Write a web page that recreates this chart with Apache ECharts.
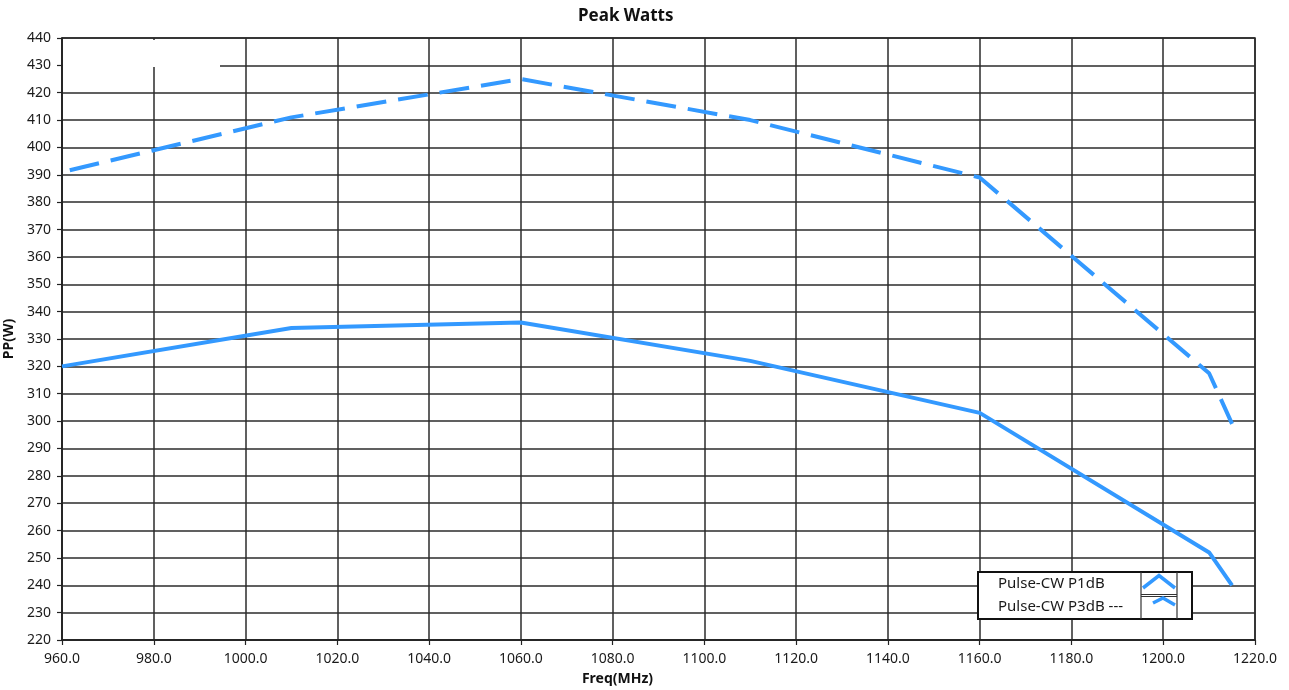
<!DOCTYPE html>
<html>
<head>
<meta charset="utf-8">
<title>Peak Watts</title>
<script src="https://cdn.jsdelivr.net/npm/echarts@6/dist/echarts.min.js"></script>
<style>
  html, body { margin: 0; padding: 0; background: #ffffff; }
  #chart { width: 1289px; height: 690px; }
</style>
</head>
<body>
<div id="chart"></div>
<script>
// Frequency points (MHz) shared by both curves
const freqMHz = [960, 1010, 1060, 1110, 1160, 1210, 1215];
// Peak power (W) at 1 dB compression
const p1dBWatts = [320, 334, 336, 322, 303, 252, 240];
// Peak power (W) at 3 dB compression
const p3dBWatts = [391, 411, 425, 410, 389, 317.5, 299];

const seriesNames = ['Pulse-CW P1dB', 'Pulse-CW P3dB ---'];
const lineBlue = '#3399ff';
const gridInk = '#2b2b2b';
const fontFamily = '"Noto Sans", "DejaVu Sans", sans-serif';

const toPairs = (xs, ys) => xs.map((x, i) => [x, ys[i]]);

const chart = echarts.init(document.getElementById('chart'), null, { renderer: 'canvas' });

// Legend box drawn at the lower right of the plot
const lgX = 978, lgY = 572;
const legendGraphics = [
  { type: 'rect', z: 200, shape: { x: lgX, y: lgY, width: 214, height: 47 },
    style: { fill: '#ffffff', stroke: '#111', lineWidth: 2 } },
  { type: 'line', z: 201, shape: { x1: lgX + 163, y1: lgY, x2: lgX + 163, y2: lgY + 47 },
    style: { stroke: '#333', lineWidth: 1.2 } },
  { type: 'line', z: 201, shape: { x1: lgX + 199, y1: lgY, x2: lgX + 199, y2: lgY + 47 },
    style: { stroke: '#333', lineWidth: 1.2 } },
  { type: 'line', z: 201, shape: { x1: lgX + 163, y1: lgY + 22.5, x2: lgX + 199, y2: lgY + 22.5 },
    style: { stroke: '#333', lineWidth: 1.2 } },
  { type: 'line', z: 201, shape: { x1: lgX + 163, y1: lgY + 24.5, x2: lgX + 199, y2: lgY + 24.5 },
    style: { stroke: '#333', lineWidth: 1.2 } },
  { type: 'text', z: 202, x: lgX + 20, y: lgY + 11.5,
    style: { text: seriesNames[0], fill: '#1a1a1a', font: '15px ' + fontFamily, verticalAlign: 'middle' } },
  { type: 'text', z: 202, x: lgX + 20, y: lgY + 35,
    style: { text: seriesNames[1], fill: '#1a1a1a', font: '15px ' + fontFamily, verticalAlign: 'middle' } },
  { type: 'polyline', z: 202,
    shape: { points: [[lgX + 165, lgY + 16], [lgX + 181, lgY + 3.5], [lgX + 197, lgY + 16]] },
    style: { stroke: lineBlue, lineWidth: 3.5, fill: null } },
  { type: 'polyline', z: 202,
    shape: { points: [[lgX + 175, lgY + 31], [lgX + 185, lgY + 26], [lgX + 197, lgY + 33]] },
    style: { stroke: lineBlue, lineWidth: 3.5, fill: null } }
];

const option = {
  backgroundColor: '#ffffff',
  animation: false,
  title: {
    text: 'Peak Watts',
    left: 573,
    top: 3,
    textStyle: { fontFamily: fontFamily, fontSize: 17, fontWeight: 'bold', color: '#111' }
  },
  grid: {
    left: 62, right: 34, top: 38, bottom: 50,
    containLabel: false,
    outerBoundsMode: 'none',
    show: true, borderColor: '#222', borderWidth: 1.5, backgroundColor: 'transparent'
  },
  xAxis: {
    type: 'value',
    min: 960, max: 1220, interval: 20,
    name: 'Freq(MHz)',
    nameLocation: 'middle',
    nameGap: 32,
    nameTextStyle: {
      fontFamily: fontFamily, fontSize: 14, fontWeight: 'bold', color: '#111',
      padding: [0, 82, 0, 0]
    },
    axisLine: { show: true, lineStyle: { color: '#222', width: 1.5 } },
    axisTick: { show: true, inside: false, length: 5, lineStyle: { color: '#222', width: 1.2 } },
    axisLabel: {
      margin: 12, color: '#1a1a1a', fontFamily: fontFamily, fontSize: 14,
      formatter: v => v.toFixed(1)
    },
    splitLine: { show: true, lineStyle: { color: gridInk, width: 1.5 } }
  },
  yAxis: {
    type: 'value',
    min: 220, max: 440, interval: 10,
    name: 'PP(W)',
    nameLocation: 'middle',
    nameGap: 38,
    nameTextStyle: { fontFamily: fontFamily, fontSize: 14, fontWeight: 'bold', color: '#111' },
    axisLine: { show: true, lineStyle: { color: '#222', width: 1.5 } },
    axisTick: { show: true, inside: false, length: 5, lineStyle: { color: '#222', width: 1.2 } },
    axisLabel: { margin: 11, color: '#1a1a1a', fontFamily: fontFamily, fontSize: 14 },
    splitLine: { show: true, lineStyle: { color: gridInk, width: 1.5 } }
  },
  series: [
    {
      name: seriesNames[0],
      type: 'line',
      data: toPairs(freqMHz, p1dBWatts),
      showSymbol: false,
      silent: true,
      lineStyle: { color: lineBlue, width: 4 },
      z: 5
    },
    {
      name: seriesNames[1],
      type: 'line',
      data: toPairs(freqMHz, p3dBWatts),
      showSymbol: false,
      silent: true,
      lineStyle: { color: lineBlue, width: 4, type: [30, 12], dashOffset: 34 },
      z: 5
    }
  ],
  graphic: [
    // blank patch at the upper left corner of the plot
    { type: 'rect', z: 150, shape: { x: 63, y: 40, width: 157, height: 27 },
      style: { fill: '#ffffff' } }
  ].concat(legendGraphics)
};

chart.setOption(option);
</script>
</body>
</html>
